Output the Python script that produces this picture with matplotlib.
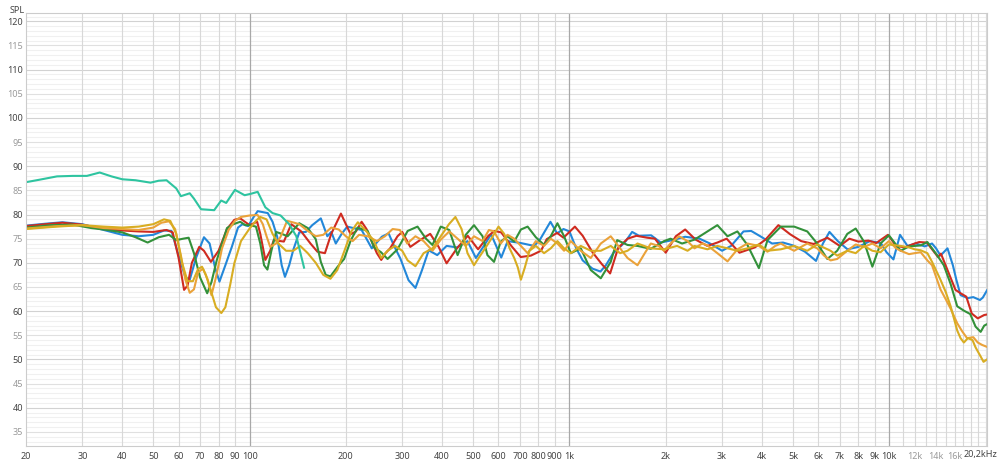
import matplotlib
matplotlib.use("Agg")
import matplotlib.pyplot as plt

plt.rcParams['font.family'] = ['Noto Sans', 'DejaVu Sans']

# --- data (Hz, dB SPL) ---
teal_f = [20, 22, 25, 28, 31, 34, 37, 40, 44, 49, 52, 55, 59, 61, 65, 67, 70.5, 77.5, 81.5, 84.5,
          90, 96.5, 101, 106, 112, 118, 125, 133, 140, 148]
teal_v = [86.7, 87.2, 87.9, 88.0, 88.0, 88.7, 87.9, 87.3, 87.1, 86.6, 87.0, 87.1, 85.4, 83.8, 84.4, 83.3,
          81.1, 80.9, 82.9, 82.4, 85.1, 84.0, 84.3, 84.7, 81.5, 80.3, 79.8, 78.0, 75.5, 69.0]

blue_f = [20, 23, 26, 30, 35, 40, 45, 50, 54, 57, 60, 63, 65, 68, 72, 75, 78, 80.5, 84, 88, 92, 95, 99,
          103, 106, 114, 118, 122, 126, 129, 133, 137, 143, 150, 157, 167, 175, 180, 186, 194, 202, 224,
          241, 259, 272, 283, 296, 314, 330, 346, 363, 386, 413, 445, 480, 510, 540, 569, 612, 641, 704,
          776, 812, 872, 915, 958, 1000, 1050, 1100, 1180, 1250, 1300, 1370, 1450, 1500, 1570, 1650,
          1800, 1930, 2100, 2300, 2550, 2750, 3000, 3200, 3500, 3700, 3950, 4300, 4650, 5000, 5450,
          5900, 6200, 6500, 6900, 7400, 8000, 8700, 9400, 9800, 10300, 10800, 11400, 12100, 12900,
          13600, 14000, 14450, 15200, 15800, 16200, 16700, 17600, 18300, 19200, 19600, 20200]
blue_v = [77.7, 78.1, 78.4, 78.0, 76.8, 75.8, 75.5, 75.8, 76.7, 76.6, 71.5, 67.0, 66.5, 71.0, 75.3, 74.0,
          69.0, 66.1, 69.5, 73.3, 77.3, 78.0, 77.6, 79.5, 80.7, 80.3, 78.5, 75.4, 69.5, 67.1, 69.5, 72.7,
          76.3, 76.4, 77.8, 79.2, 75.5, 76.4, 74.0, 76.0, 77.5, 76.8, 73.0, 75.4, 76.1, 73.5, 70.9, 66.4,
          64.8, 68.5, 72.6, 71.6, 73.5, 73.2, 74.5, 71.0, 73.5, 75.9, 71.1, 74.5, 74.1, 73.5, 75.0, 78.5,
          76.1, 77.0, 76.5, 73.0, 70.5, 68.8, 68.2, 69.5, 72.0, 73.5, 74.5, 76.4, 75.6, 75.7, 74.2, 74.7,
          75.4, 75.0, 74.0, 72.5, 73.5, 76.5, 76.6, 75.5, 74.0, 74.2, 73.6, 72.3, 70.4, 74.0, 76.4, 74.5,
          72.8, 73.3, 74.5, 74.1, 72.2, 70.7, 75.8, 73.5, 74.0, 73.4, 74.0, 73.0, 71.5, 73.0, 69.5, 66.5,
          63.3, 62.7, 62.9, 62.3, 62.8, 64.3]

red_f = [20, 23, 26, 30, 35, 40, 45, 50, 55, 57.5, 60, 62.4, 64, 66, 69.6, 72, 75.7, 80, 85, 89.6, 93.5,
         100, 105.6, 108, 112, 116, 119, 128, 135, 145, 155, 163, 172, 180, 193, 200, 207, 215, 224, 232,
         241, 250, 258, 266, 275, 290, 300, 318, 341, 367, 390, 413, 445, 481, 518, 558, 583, 612, 658,
         704, 758, 815, 849, 915, 958, 1040, 1100, 1180, 1260, 1340, 1420, 1520, 1620, 1750, 1850, 2000,
         2150, 2300, 2480, 2700, 2900, 3100, 3400, 3800, 4100, 4500, 4900, 5300, 5800, 6400, 7000, 7500,
         8000, 8600, 9100, 9900, 10500, 11200, 12000, 12400, 13100, 14200, 14500, 15200, 16100, 16700,
         17400, 18100, 18900, 19800, 20200]
red_v = [77.6, 78.0, 78.3, 77.9, 77.0, 76.7, 76.5, 76.4, 76.8, 76.3, 71.0, 64.4, 65.3, 70.0, 73.3, 72.5,
         70.2, 72.5, 77.0, 78.9, 79.2, 77.8, 78.5, 76.0, 70.6, 72.5, 74.7, 74.4, 78.0, 76.5, 74.0, 72.3,
         72.0, 76.0, 80.2, 78.0, 75.9, 76.5, 78.5, 77.0, 74.4, 72.0, 70.6, 72.0, 73.0, 75.5, 76.4, 73.3,
         74.7, 76.0, 73.3, 69.9, 73.0, 75.6, 72.8, 75.6, 76.6, 76.3, 73.5, 71.2, 71.5, 72.5, 74.9, 76.2,
         75.2, 77.5, 75.6, 72.2, 69.8, 67.8, 73.1, 75.0, 75.6, 75.2, 75.0, 72.1, 75.5, 76.9, 74.8, 73.5,
         74.2, 75.0, 72.1, 73.2, 74.8, 77.8, 75.9, 74.5, 73.9, 75.2, 73.5, 75.0, 74.4, 74.6, 74.1, 75.8,
         73.5, 73.2, 74.0, 74.3, 74.2, 71.2, 71.9, 68.5, 64.4, 63.7, 63.0, 59.5, 58.5, 59.2, 59.3]

green_f = [20, 24, 28, 32, 36, 40, 44, 48, 52, 56, 59, 62, 64.5, 67, 70, 73.7, 76, 79, 82, 85, 89, 93.5,
           97, 100, 104.7, 108, 111, 113.7, 117, 121, 126, 131.5, 143, 152, 161, 167, 173, 179, 188.5,
           197.5, 207, 217.6, 234, 245, 257.5, 270, 290, 312, 335, 356, 373, 396, 421, 447, 474, 503,
           535, 554, 581, 610, 640, 672, 705, 740, 785, 833, 874, 917, 962, 1010, 1085, 1166, 1253, 1346,
           1410, 1519, 1632, 1796, 1976, 2070, 2250, 2460, 2700, 2900, 3120, 3350, 3600, 3910, 4160, 4580,
           5040, 5540, 5950, 6400, 6870, 7390, 7850, 8330, 8850, 9390, 9970, 10850, 11520, 12530, 13150,
           14100, 14800, 15550, 16300, 17100, 17900, 18600, 19300, 19800, 20200]
green_v = [77.3, 77.8, 77.9, 77.2, 76.8, 76.3, 75.3, 74.2, 75.3, 75.8, 74.7, 75.0, 75.2, 72.0, 67.0, 63.7,
           66.0, 70.6, 74.0, 77.2, 78.0, 78.5, 77.8, 77.8, 77.5, 74.0, 69.5, 68.6, 72.5, 76.4, 76.0, 75.5,
           78.2, 77.2, 74.9, 70.2, 67.5, 67.2, 69.2, 70.8, 74.6, 77.3, 76.6, 73.2, 72.2, 70.8, 72.8, 76.6,
           77.5, 75.0, 73.7, 77.5, 76.8, 71.6, 75.8, 77.8, 75.5, 71.6, 70.2, 74.4, 75.5, 74.4, 76.9, 77.5,
           75.3, 73.7, 75.5, 78.2, 75.5, 72.0, 73.0, 68.5, 66.8, 70.2, 74.7, 73.7, 73.5, 72.9, 74.5, 75.0,
           74.0, 74.8, 76.5, 77.8, 75.5, 76.5, 73.7, 68.9, 74.7, 77.5, 77.5, 76.5, 74.0, 70.8, 72.5, 76.0,
           77.1, 74.4, 69.2, 74.0, 75.7, 72.5, 73.4, 73.6, 74.3, 71.6, 69.5, 65.6, 61.0, 60.1, 59.4, 56.8,
           55.7, 57.0, 57.3]

orange_f = [20, 25, 30, 35, 40, 45, 50, 53, 56, 58.5, 61, 63, 65, 67, 69, 71.5, 74, 76, 78.5, 82, 86, 90,
            94, 100, 106, 110, 113, 116, 121, 125, 131, 138, 143, 152, 161, 170, 180, 190, 200, 210, 220,
            234, 250, 265, 280, 295, 311, 330, 350, 373, 396, 421, 447, 474, 503, 535, 560, 581, 610, 640,
            672, 705, 740, 785, 833, 874, 917, 962, 1010, 1085, 1166, 1253, 1346, 1440, 1519, 1632, 1720,
            1796, 1900, 1976, 2070, 2200, 2340, 2460, 2600, 2700, 2900, 3120, 3350, 3600, 3910, 4160, 4400,
            4580, 4800, 5040, 5540, 5950, 6250, 6550, 6870, 7390, 7850, 8330, 8850, 9390, 9970, 10500,
            10850, 11520, 12000, 12530, 13150, 13600, 14100, 14450, 15000, 15550, 16300, 16900, 17500,
            18300, 18900, 19500, 20200]
orange_v = [77.1, 77.6, 77.8, 77.2, 77.0, 76.8, 77.3, 78.3, 78.6, 77.0, 71.5, 66.5, 63.8, 64.5, 68.0, 68.8,
            66.5, 63.3, 67.0, 73.0, 76.8, 78.7, 79.5, 79.8, 79.9, 78.0, 75.5, 73.3, 74.0, 75.4, 78.7, 78.3,
            78.0, 76.6, 75.5, 75.8, 77.3, 76.9, 75.5, 74.5, 75.8, 75.5, 74.5, 75.5, 77.0, 76.8, 74.0, 75.5,
            74.5, 72.5, 74.8, 76.5, 75.0, 73.5, 75.5, 74.5, 76.8, 76.5, 74.0, 75.8, 75.0, 73.5, 72.0, 74.5,
            73.5, 75.0, 74.0, 72.5, 74.5, 72.5, 71.0, 74.0, 75.5, 73.0, 71.0, 69.5, 72.0, 74.0, 73.5, 72.5,
            74.0, 75.5, 74.5, 73.0, 74.0, 73.6, 72.0, 70.3, 72.8, 74.0, 73.5, 72.3, 73.5, 74.0, 73.2, 72.5,
            74.0, 73.0, 71.5, 70.5, 70.8, 72.5, 73.8, 73.3, 74.0, 73.0, 74.5, 73.0, 72.5, 71.8, 72.0, 72.2,
            70.5, 69.5, 66.5, 64.5, 62.5, 60.5, 57.5, 55.8, 54.4, 54.6, 53.5, 53.0, 52.6]

gold_f = [20, 25, 30, 35, 40, 45, 50, 54, 56.5, 59, 61.5, 64, 66.5, 69, 71, 73, 75.5, 78.5, 81.6, 84, 87,
          89.6, 94, 100, 105, 108, 113, 118, 123, 130, 137, 144, 152, 161, 170, 179, 188, 198, 208, 218,
          232, 245, 258, 270, 285, 300, 312, 330, 350, 373, 396, 420, 440, 460, 480, 503, 520, 545, 570,
          600, 625, 650, 672, 690, 705, 725, 750, 785, 833, 874, 917, 962, 1010, 1085, 1166, 1253, 1346,
          1440, 1519, 1632, 1796, 1976, 2170, 2340, 2460, 2700, 2900, 3120, 3350, 3600, 3910, 4160, 4580,
          5040, 5540, 5950, 6550, 6870, 7390, 7850, 8330, 8850, 9390, 9970, 10850, 11520, 12000, 12530,
          13150, 13600, 14100, 14450, 15000, 15550, 16300, 16700, 17100, 17600, 18200, 18600, 19300,
          19700, 20200]
gold_v = [77.0, 77.5, 77.8, 77.5, 77.3, 77.5, 78.0, 79.0, 78.7, 76.0, 70.0, 66.2, 66.2, 68.7, 69.2, 67.5,
          64.5, 60.8, 59.6, 60.8, 65.5, 69.9, 74.5, 77.1, 78.8, 79.5, 79.0, 76.0, 74.0, 72.5, 72.5, 73.5,
          72.0, 70.0, 67.5, 66.7, 68.5, 72.5, 76.5, 78.4, 76.5, 74.5, 71.0, 72.5, 73.5, 72.5, 70.5, 69.3,
          72.0, 73.0, 75.5, 78.0, 79.5, 77.0, 72.0, 69.5, 71.0, 73.0, 75.0, 77.5, 76.0, 73.0, 71.0, 69.0,
          66.5, 69.0, 72.5, 73.5, 72.0, 73.0, 74.5, 73.0, 72.0, 73.5, 72.5, 72.5, 73.5, 72.0, 72.5, 74.0,
          73.0, 72.8, 73.5, 72.5, 73.5, 72.8, 73.5, 73.0, 72.5, 73.0, 73.8, 72.5, 72.8, 73.5, 72.5, 73.8,
          72.5, 71.5, 72.5, 72.0, 73.5, 72.5, 72.2, 73.8, 73.5, 73.2, 72.8, 72.6, 72.0, 70.2, 68.0, 66.5,
          64.0, 61.0, 56.0, 54.4, 53.5, 54.4, 54.0, 52.5, 50.6, 49.5, 50.0]

y_major = [35, 40, 45, 50, 55, 60, 65, 70, 75, 80, 85, 90, 95, 100, 105, 110, 115, 120]
x_ticks = [20, 30, 40, 50, 60, 70, 80, 90, 100, 200, 300, 400, 500, 600, 700, 800, 900,
           1000, 2000, 3000, 4000, 5000, 6000, 7000, 8000, 9000, 10000, 12000, 14000, 16000]
x_labels = ['20', '30', '40', '50', '60', '70', '80', '90', '100', '200', '300', '400', '500', '600',
            '700', '800', '900', '1k', '2k', '3k', '4k', '5k', '6k', '7k', '8k', '9k', '10k',
            '12k', '14k', '16k']
end_label = '20,2kHz'

fig = plt.figure(figsize=(10, 4.62), dpi=100)
ax = fig.add_axes([0.026, 0.0346, 0.961, 0.938])
ax.set_xscale('log')
ax.set_xlim(20, 20200)
ax.set_ylim(32.07, 121.8)

# grid
for v in range(33, 122):
    if v % 10 == 0:
        c = '#d2d2d2'
    elif v % 5 == 0:
        c = '#e0e0e0'
    else:
        c = '#f0f0f0'
    ax.axhline(v, color=c, lw=0.8, zorder=0)
vlines = list(range(30, 100, 10)) + list(range(200, 1000, 100)) + list(range(2000, 10000, 1000)) \
    + list(range(11000, 21000, 1000))
for f in vlines:
    ax.axvline(f, color='#d8d8d8', lw=0.8, zorder=0)
for f in [100, 1000, 10000]:
    ax.axvline(f, color='#a8a8a8', lw=0.9, zorder=0)

ax.plot(blue_f, blue_v, color='#2387d9', lw=1.5)
ax.plot(red_f, red_v, color='#cf2b20', lw=1.5)
ax.plot(green_f, green_v, color='#33913a', lw=1.5)
ax.plot(orange_f, orange_v, color='#eaa23a', lw=1.5)
ax.plot(gold_f, gold_v, color='#d8ad22', lw=1.5)
ax.plot(teal_f, teal_v, color='#2ec4a0', lw=1.5)

ax.set_yticks(y_major)
ax.set_yticklabels([str(v) for v in y_major], fontsize=6.5)
for lab, v in zip(ax.get_yticklabels(), y_major):
    lab.set_color('#444444' if v % 10 == 0 else '#9a9a9a')
ax.set_xticks(x_ticks)
ax.set_xticklabels(x_labels, fontsize=6.5)
ax.minorticks_off()
for lab, f in zip(ax.get_xticklabels(), x_ticks):
    lab.set_color('#9a9a9a' if f in (12000, 14000, 16000) else '#444444')
ax.tick_params(length=0, pad=2)
ax.tick_params(axis='x', pad=4)
for s in ax.spines.values():
    s.set_color('#cccccc')
    s.set_linewidth(0.8)

fig.text(0.997, 0.0346 - 4 / 462, end_label, fontsize=6.5, color='#444444', ha='right', va='top')
fig.text(0.025, 0.988, 'SPL', fontsize=6.5, color='#444444', ha='right', va='top')

fig.savefig('out.png', dpi=100)
